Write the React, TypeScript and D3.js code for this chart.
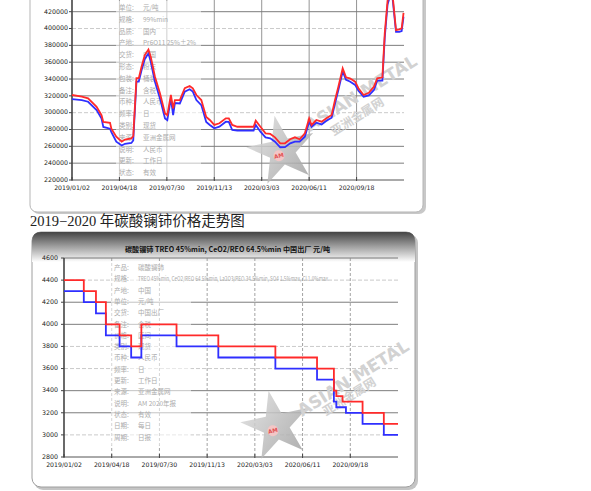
import React from "react";
import * as d3 from "d3";

const parse = d3.timeParse("%Y/%m/%d");

// shared x axis labels (both charts use the same dates)
const xTickLabels = ["2019/01/02", "2019/04/18", "2019/07/30", "2019/11/13", "2020/03/03", "2020/06/11", "2020/09/18"];
const xEnd = "2020/12/28";

// upper chart (cropped, previous figure)
const topYTicks = [220000, 240000, 260000, 280000, 300000, 320000, 340000, 360000, 380000, 400000, 420000];
const topLightTicks = [300000, 400000];
const topDates = [
  "2019/01/02", "2019/01/24", "2019/02/07", "2019/02/26", "2019/03/09", "2019/03/13", "2019/03/28", "2019/03/31",
  "2019/04/11", "2019/04/23", "2019/04/30", "2019/05/14", "2019/05/18", "2019/05/25", "2019/05/30", "2019/06/05",
  "2019/06/12", "2019/06/20", "2019/06/25", "2019/07/04", "2019/07/15", "2019/07/26", "2019/07/31", "2019/08/08",
  "2019/08/13", "2019/08/17", "2019/08/28", "2019/09/08", "2019/09/19", "2019/09/26", "2019/10/04", "2019/10/15",
  "2019/10/26", "2019/11/03", "2019/11/13", "2019/11/25", "2019/12/10", "2019/12/17", "2019/12/25", "2020/01/06",
  "2020/02/13", "2020/02/18", "2020/02/29", "2020/03/11", "2020/03/21", "2020/03/31", "2020/04/11", "2020/04/21",
  "2020/05/02", "2020/05/12", "2020/05/22", "2020/06/02", "2020/06/11", "2020/06/16", "2020/06/26", "2020/07/07",
  "2020/07/17", "2020/07/28", "2020/08/04", "2020/08/11", "2020/08/20", "2020/08/27", "2020/09/04", "2020/09/15",
  "2020/09/22", "2020/10/03", "2020/10/14", "2020/10/25", "2020/11/01", "2020/11/12", "2020/11/17", "2020/11/23",
  "2020/11/29", "2020/12/04", "2020/12/11", "2020/12/18", "2020/12/23", "2020/12/27",
];
const topRed = [
  321000, 319000, 317000, 307000, 297000, 289000, 288000, 281000, 271500, 265500, 268000, 269500, 272000, 341000,
  341000, 354500, 368500, 375000, 366500, 343000, 323000, 299000, 297000, 321000, 305000, 315000, 315000, 329000,
  331700, 329000, 321000, 315000, 295000, 291300, 285400, 287400, 293300, 293300, 285400, 283300, 283300, 290500,
  283300, 275500, 274700, 270700, 263600, 263600, 268400, 270700, 268400, 275500, 293300, 285400, 291300, 289300,
  293300, 297200, 315000, 330900, 352700, 342000, 340800, 336800, 329000, 321000, 323700, 330900, 340800, 342000,
  394300, 433100, 445000, 438000, 398000, 399000, 400200, 418500,
];
const topBlue = [
  316000, 315000, 313000, 303000, 293000, 283000, 281000, 277000, 265500, 261000, 263000, 264000, 267000, 337000,
  337000, 350500, 363500, 370500, 360500, 337000, 317000, 293000, 291000, 317000, 297000, 311500, 311000, 325000,
  327800, 325000, 315000, 309000, 289000, 285400, 281400, 283300, 289300, 289000, 279400, 278600, 278600, 285400,
  277400, 270700, 269500, 265500, 258900, 259000, 263600, 265500, 265500, 271500, 289300, 283300, 288100, 286000,
  290500, 294000, 311000, 327000, 349000, 339000, 337000, 333000, 326000, 319000, 320500, 327000, 338000, 338000,
  389000, 428500, 440000, 434000, 396000, 396000, 397000, 414000,
];
const topNoteLabels = ["单位:", "规格:", "品质:", "产地:", "交货:", "形态:", "包装:", "备注:", "币种:", "频率:", "类别:", "来源:", "说明:", "更新:", "状态:"];
const topNoteValues = ["元/吨", "99%min", "国内", "Pr6O11 25%±2%", "中国", "粉末", "桶装", "含税", "人民币", "日", "现货", "亚洲金属网", "人民币", "工作日", "有效"];

// lower chart: 碳酸镧铈
const caption = "2019−2020 年碳酸镧铈价格走势图";
const bottomTitle = "碳酸镧铈 TREO 45%min, CeO2/REO 64.5%min 中国出厂 元/吨";
const bottomYTicks = [2800, 3000, 3200, 3400, 3600, 3800, 4000, 4200, 4400, 4600];
const bottomLightTicks = [3000, 3600, 3800, 4400];
const redDates = ["2019/01/02", "2019/02/15", "2019/03/14", "2019/04/05", "2019/05/05", "2019/05/30", "2019/06/21", "2019/09/06",
  "2019/12/09", "2020/04/15", "2020/07/11", "2020/08/15", "2020/08/20", "2020/09/02", "2020/10/14", "2020/11/28", "2020/12/28"];
const redPrices = [4400, 4300, 4200, 4000, 3900, 3800, 4000, 3900, 3800, 3700, 3600, 3400, 3350, 3300, 3200, 3100, 3100];
const blueDates = ["2019/01/02", "2019/02/15", "2019/03/14", "2019/04/05", "2019/05/05", "2019/05/30", "2019/06/21", "2019/09/06",
  "2019/12/09", "2020/04/15", "2020/07/11", "2020/08/15", "2020/08/20", "2020/09/09", "2020/10/14", "2020/11/28", "2020/12/28"];
const bluePrices = [4300, 4200, 4100, 3900, 3800, 3700, 3900, 3800, 3700, 3600, 3500, 3300, 3250, 3200, 3100, 3000, 3000];
const bottomNoteLabels = ["产品:", "规格:", "产地:", "单位:", "交货:", "备注:", "价格:", "类别:", "币种:", "频率:", "更新:", "来源:", "说明:", "状态:", "日期:", "周期:"];
const bottomNoteValues = ["碳酸镧铈", "TREO 45%min, CeO2/REO 64.5%min, La2O3/REO 34.5%min, SO4 1.5%max, Cl 1.0%max", "中国",
  "元/吨", "中国出厂", "含税", "区间", "现货", "人民币", "日", "工作日", "亚洲金属网", "AM 2020年报", "有效", "每日", "日报"];

const RED = "#ff2a2a";
const BLUE = "#2f2fff";
const AXIS_FONT = "DejaVu Sans, sans-serif";
const CJK = "Noto Sans CJK SC, sans-serif";

type ChartProps = {
  left: number; right: number; yBottom: number; yTopPx: number; plotTop: number;
  yTicks: number[]; lightTicks: number[]; yDomain: [number, number];
  red: { d: Date; v: number }[]; blue: { d: Date; v: number }[];
  curve: d3.CurveFactory; vDashed: boolean; labelX: number;
  noteLabels: string[]; noteValues: string[]; noteY0: number; noteStep: number; noteX: number; noteW: number;
  star: [number, number]; mark: [number, number]; cjkMark: [number, number];
};

function Star({ cx, cy }: { cx: number; cy: number }) {
  const path = d3.symbol().type(d3.symbolStar).size(1450)() as string;
  return (
    <g transform={`translate(${cx},${cy}) rotate(-12)`}>
      <path d={path} fill="url(#starGrad)" opacity={0.85} />
      <circle r={5.5} cx={-4} cy={4} fill="#f3c6c6" />
      <text x={-4} y={6} fontSize={5.5} fill="#e05050" textAnchor="middle" fontFamily={AXIS_FONT} fontWeight="bold">AM</text>
    </g>
  );
}

function Chart(p: ChartProps) {
  const tickDates = xTickLabels.map((t) => parse(t) as Date);
  const step = (p.right - p.left) / xTickLabels.length;
  const x = d3.scaleTime()
    .domain([...tickDates, parse(xEnd) as Date])
    .range([...tickDates.map((_, i) => p.left + i * step), p.right]);
  const y = d3.scaleLinear().domain(p.yDomain).range([p.yBottom, p.yTopPx]);
  const line = d3.line<{ d: Date; v: number }>().x((s) => x(s.d)).y((s) => y(s.v)).curve(p.curve);

  return (
    <g>
      {/* horizontal grid */}
      {p.yTicks.map((t) => {
        const light = p.lightTicks.includes(t);
        return t === p.yDomain[0] ? null : (
          <line key={t} x1={p.left} x2={p.right} y1={y(t)} y2={y(t)}
            stroke={light ? "#bdbdbd" : "#6e6e6e"} strokeWidth={light ? 0.8 : 0.9}
            strokeDasharray={light ? "4,2" : undefined} />
        );
      })}
      {/* vertical grid */}
      {tickDates.slice(1).map((d, i) => (
        <line key={i} x1={x(d)} x2={x(d)} y1={p.plotTop} y2={p.yBottom}
          stroke={p.vDashed ? "#8a8a8a" : "#7a7a7a"} strokeWidth={0.8}
          strokeDasharray={p.vDashed ? "3,2" : undefined} />
      ))}
      {/* note block */}
      <rect x={p.noteX - 3} y={p.noteY0 - 9} width={p.noteW} height={p.noteStep * p.noteLabels.length + 4} fill="#fff" opacity={0.55} />
      {p.noteLabels.map((l, i) => (
        <g key={i} fontFamily={CJK} fontSize={6.5} fill="#ababab">
          <text x={p.noteX} y={p.noteY0 + i * p.noteStep}>{l}</text>
          <text x={p.noteX + 24} y={p.noteY0 + i * p.noteStep}
            textLength={p.noteValues[i].length > 30 ? 190 : undefined}
            lengthAdjust="spacingAndGlyphs">{p.noteValues[i]}</text>
        </g>
      ))}
      {/* axes */}
      <line x1={p.left} x2={p.right} y1={p.yBottom} y2={p.yBottom} stroke="#555" strokeWidth={1} />
      <line x1={p.left} x2={p.left} y1={p.plotTop} y2={p.yBottom} stroke="#444" strokeWidth={1.6} />
      {p.yTicks.map((t) => (
        <g key={t}>
          <line x1={p.left - 3} x2={p.left} y1={y(t)} y2={y(t)} stroke="#444" />
          <text x={p.labelX} y={y(t) + 1.8} fontSize={6.3} textAnchor="end" fontFamily={AXIS_FONT} fill="#222">{t}</text>
        </g>
      ))}
      {tickDates.map((d, i) => (
        <g key={i}>
          <line x1={x(d)} x2={x(d)} y1={p.yBottom - 3} y2={p.yBottom + 1} stroke="#444" />
          <text x={x(d)} y={p.yBottom + 10} fontSize={6.2} textAnchor="middle" fontFamily={AXIS_FONT} fill="#222">{xTickLabels[i]}</text>
        </g>
      ))}
      {/* watermark */}
      <Star cx={p.star[0]} cy={p.star[1]} />
      <text transform={`translate(${p.mark[0]},${p.mark[1]}) rotate(-32)`} fontSize={17} fontWeight="bold"
        fontFamily={AXIS_FONT} fill="#d2d2d2">ASIAN METAL</text>
      <text transform={`translate(${p.cjkMark[0]},${p.cjkMark[1]}) rotate(-32)`} fontSize={12} fontWeight="bold"
        fontFamily={CJK} fill="#d2d2d2">亚洲金属网</text>
      {/* series */}
      <path d={line(p.blue) as string} fill="none" stroke={BLUE} strokeWidth={1.8} />
      <path d={line(p.red) as string} fill="none" stroke={RED} strokeWidth={1.8} />
    </g>
  );
}

export default function App() {
  const topR = topDates.map((d, i) => ({ d: parse(d) as Date, v: topRed[i] }));
  const topB = topDates.map((d, i) => ({ d: parse(d) as Date, v: topBlue[i] }));
  const botR = redDates.map((d, i) => ({ d: parse(d) as Date, v: redPrices[i] }));
  const botB = blueDates.map((d, i) => ({ d: parse(d) as Date, v: bluePrices[i] }));

  return (
    <svg width={591} height={491} style={{ position: "absolute", left: 0, top: 0, background: "#fff" }}>
      <defs>
        <linearGradient id="hdr" x1="0" y1="0" x2="0" y2="1">
          <stop offset="0" stopColor="#444" />
          <stop offset="0.45" stopColor="#999" />
          <stop offset="1" stopColor="#ffffff" />
        </linearGradient>
        <linearGradient id="starGrad" x1="0" y1="0" x2="1" y2="1">
          <stop offset="0" stopColor="#e2e2e2" />
          <stop offset="1" stopColor="#9c9c9c" />
        </linearGradient>
      </defs>

      {/* upper card */}
      <rect x={32} y={-30} width={394} height={244} rx={7} fill="#c8c8c8" />
      <rect x={30} y={-30} width={393} height={242} rx={7} fill="#fff" stroke="#b5b5b5" />
      <Chart left={72} right={404} yBottom={180} yTopPx={11.7} plotTop={0} yTicks={topYTicks} lightTicks={topLightTicks}
        yDomain={[220000, 420000]} red={topR} blue={topB} curve={d3.curveLinear} vDashed={false} labelX={68}
        noteLabels={topNoteLabels} noteValues={topNoteValues} noteY0={10} noteStep={11.8} noteX={119} noteW={85}
        star={[282, 151]} mark={[310, 132]} cjkMark={[334, 136]} />

      <text x={30} y={226} fontSize={14.5} fontFamily={"Liberation Serif, " + CJK} fill="#222">{caption}</text>

      {/* lower card */}
      <rect x={34} y={234} width={384} height={256} rx={9} fill="#c4c4c4" />
      <rect x={32} y={232} width={383} height={255} rx={9} fill="#fff" stroke="#9e9e9e" />
      <path d="M 32 262 L 32 241 Q 32 232 41 232 L 406 232 Q 415 232 415 241 L 415 262 Z" fill="url(#hdr)" />
      <text x={125} y={252} fontSize={7} fontWeight="bold" fontFamily={CJK} fill="#111" textLength={205} lengthAdjust="spacingAndGlyphs">{bottomTitle}</text>
      <Chart left={64} right={398} yBottom={457} yTopPx={258} plotTop={258} yTicks={bottomYTicks} lightTicks={bottomLightTicks}
        yDomain={[2800, 4600]} red={botR} blue={botB} curve={d3.curveStepAfter} vDashed={true} labelX={58}
        noteLabels={bottomNoteLabels} noteValues={bottomNoteValues} noteY0={270} noteStep={11.3} noteX={114} noteW={80}
        star={[276, 426]} mark={[302, 417]} cjkMark={[326, 416]} />
    </svg>
  );
}
